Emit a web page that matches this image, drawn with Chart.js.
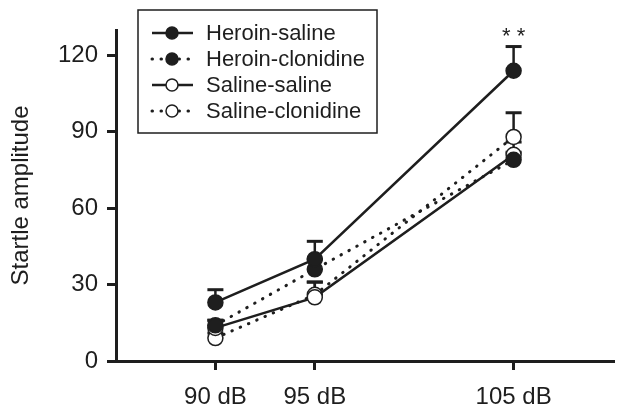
<!DOCTYPE html>
<html>
<head>
<meta charset="utf-8">
<script src="https://cdn.jsdelivr.net/npm/chart.js@4/dist/chart.umd.min.js"></script>
<style>
    html, body { margin: 0; padding: 0; background: #ffffff; }
    #wrap { width: 624px; height: 416px; position: relative; }
</style>
</head>
<body>
<div id="wrap"><canvas id="startleChart"></canvas></div>
<script>
/* ==========================================================================
   Startle amplitude by prepulse level - data
   ========================================================================== */

const levels = [90, 95, 105];
const yTicks = [0, 30, 60, 90, 120];

const seriesNames = ['Heroin-saline', 'Heroin-clonidine', 'Saline-saline', 'Saline-clonidine'];
const heroinSaline = [23, 40, 114];
const heroinClonidine = [14, 36, 79];
const salineSaline = [13, 25, 81];
const salineClonidine = [9, 26, 88];

// upper SEM (only the top whisker is drawn)
const heroinSalineErr = [5, 7, 9.5];
const heroinClonidineErr = [2, 4, 3];
const salineSalineErr = [3, 6, 5];
const salineClonidineErr = [2, 5, 9.5];

const sigLabel = '* *';
const sigAt = 105;

const INK = '#1e1e1e';
const FONT = "'Liberation Sans', Arial, sans-serif";

function makeSeries(label, values, errors, filled, dotted) {
    return {
        label: label,
        data: levels.map((x, i) => ({ x: x, y: values[i] })),
        errors: errors,
        borderColor: INK,
        borderWidth: dotted ? 3 : 2.5,
        borderDash: dotted ? [0.5, 8.5] : [],
        borderCapStyle: dotted ? 'round' : 'butt',
        pointRadius: 7.5,
        pointHoverRadius: 7.5,
        pointBackgroundColor: filled ? INK : '#ffffff',
        pointBorderColor: INK,
        pointBorderWidth: 1.5,
        showLine: true,
        fill: false,
        tension: 0
    };
}

const datasets = [
    makeSeries(seriesNames[0], heroinSaline, heroinSalineErr, true, false),
    makeSeries(seriesNames[1], heroinClonidine, heroinClonidineErr, true, true),
    makeSeries(seriesNames[2], salineSaline, salineSalineErr, false, false),
    makeSeries(seriesNames[3], salineClonidine, salineClonidineErr, false, true)
];

/* ==========================================================================
   Plugins: error whiskers, significance marks, boxed legend
   ========================================================================== */

const errorBars = {
    id: 'errorBars',
    beforeDatasetsDraw(chart) {
        const ctx = chart.ctx;
        const xs = chart.scales.x;
        const ys = chart.scales.y;
        ctx.save();
        ctx.strokeStyle = INK;
        chart.data.datasets.forEach(ds => {
            ds.data.forEach((pt, i) => {
                const px = xs.getPixelForValue(pt.x);
                const y0 = ys.getPixelForValue(pt.y);
                const y1 = ys.getPixelForValue(pt.y + ds.errors[i]);
                ctx.lineWidth = 2.5;
                ctx.beginPath();
                ctx.moveTo(px, y0);
                ctx.lineTo(px, y1);
                ctx.stroke();
                ctx.lineWidth = 3;
                ctx.beginPath();
                ctx.moveTo(px - 8, y1);
                ctx.lineTo(px + 8, y1);
                ctx.stroke();
            });
        });
        ctx.restore();
    }
};

const sigMarks = {
    id: 'sigMarks',
    afterDatasetsDraw(chart) {
        const ctx = chart.ctx;
        const idx = levels.indexOf(sigAt);
        const px = chart.scales.x.getPixelForValue(sigAt);
        const py = chart.scales.y.getPixelForValue(heroinSaline[idx] + heroinSalineErr[idx]);
        ctx.save();
        ctx.fillStyle = INK;
        ctx.font = '22px ' + FONT;
        ctx.textAlign = 'center';
        ctx.textBaseline = 'bottom';
        ctx.fillText(sigLabel, px, py + 1);
        ctx.restore();
    }
};

const boxLegend = {
    id: 'boxLegend',
    afterDraw(chart) {
        const ctx = chart.ctx;
        const left = 138, top = 10, w = 239, h = 123;
        ctx.save();
        ctx.fillStyle = '#ffffff';
        ctx.fillRect(left, top, w, h);
        ctx.strokeStyle = INK;
        ctx.lineWidth = 1.5;
        ctx.strokeRect(left, top, w, h);
        chart.data.datasets.forEach((ds, i) => {
            const cy = top + 23 + i * 26;
            ctx.strokeStyle = INK;
            ctx.lineWidth = ds.borderWidth;
            ctx.setLineDash(ds.borderDash);
            ctx.lineCap = ds.borderCapStyle;
            ctx.beginPath();
            ctx.moveTo(152, cy);
            ctx.lineTo(193, cy);
            ctx.stroke();
            ctx.setLineDash([]);
            ctx.lineCap = 'butt';
            ctx.beginPath();
            ctx.arc(172, cy, 6, 0, Math.PI * 2);
            ctx.fillStyle = ds.pointBackgroundColor;
            ctx.fill();
            ctx.lineWidth = 1.5;
            ctx.stroke();
            ctx.fillStyle = INK;
            ctx.font = '22px ' + FONT;
            ctx.textAlign = 'left';
            ctx.textBaseline = 'middle';
            ctx.fillText(ds.label, 206, cy + 1);
        });
        ctx.restore();
    }
};

/* ==========================================================================
   Chart
   ========================================================================== */

const ctx = document.getElementById('startleChart').getContext('2d');

new Chart(ctx, {
    type: 'scatter',
    data: { datasets: datasets },
    plugins: [errorBars, sigMarks, boxLegend],
    options: {
        responsive: true,
        maintainAspectRatio: false,
        animation: false,
        layout: { padding: { top: 30, right: 11, left: 0, bottom: 0 } },
        plugins: {
            legend: { display: false },
            tooltip: { enabled: false }
        },
        scales: {
            x: {
                type: 'linear',
                min: 85,
                max: 110,
                afterBuildTicks: scale => {
                    scale.ticks = levels.map(v => ({ value: v }));
                },
                afterFit: scale => { scale.height = 55; },
                grid: {
                    display: true,
                    drawOnChartArea: false,
                    drawTicks: true,
                    tickLength: 9,
                    lineWidth: 3,
                    color: INK
                },
                border: { display: true, color: INK, width: 3 },
                ticks: {
                    color: INK,
                    padding: 13,
                    font: { family: FONT, size: 24 },
                    callback: value => value + ' dB'
                }
            },
            y: {
                type: 'linear',
                min: 0,
                max: 130,
                afterBuildTicks: scale => {
                    scale.ticks = yTicks.map(v => ({ value: v }));
                },
                afterFit: scale => { scale.width = 116; },
                grid: {
                    display: true,
                    drawOnChartArea: false,
                    drawTicks: true,
                    tickLength: 9,
                    lineWidth: 3,
                    color: INK
                },
                border: { display: true, color: INK, width: 3 },
                ticks: {
                    color: INK,
                    padding: 9,
                    font: { family: FONT, size: 24 }
                },
                title: {
                    display: true,
                    text: 'Startle amplitude',
                    color: INK,
                    font: { family: FONT, size: 24 },
                    padding: { top: 7, bottom: 0 }
                }
            }
        }
    }
});
</script>
</body>
</html>
